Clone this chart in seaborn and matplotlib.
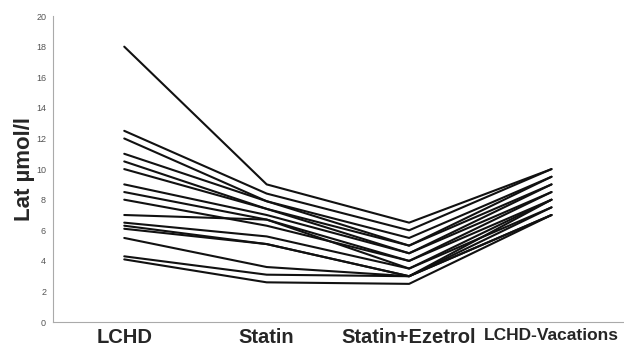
import pandas as pd
import seaborn as sns
import numpy as np
import matplotlib.pyplot as plt

# categories on the x axis
phases = ["LCHD", "Statin", "Statin+Ezetrol", "LCHD-Vacations"]

# one value per patient for each phase
lchd = [18.0, 12.5, 12.0, 11.0, 10.5, 10.0, 9.0, 8.5, 8.0, 7.0, 6.5, 6.3, 6.1, 5.5, 4.3, 4.1]
statin = [9.0, 8.4, 7.9, 7.9, 7.4, 7.4, 7.0, 6.7, 6.3, 6.7, 5.6, 5.1, 5.1, 3.6, 3.1, 2.6]
statin_ezetrol = [6.5, 6.0, 5.5, 5.0, 5.0, 4.5, 4.5, 4.0, 4.0, 3.5, 3.5, 3.0, 3.0, 3.0, 3.0, 2.5]
vacations = [10.0, 10.0, 9.5, 9.5, 9.0, 9.0, 8.5, 8.5, 8.0, 8.0, 7.5, 8.0, 7.5, 7.0, 7.0, 7.0]

#build long-form table
rows = []
for pid, vals in enumerate(zip(lchd, statin, statin_ezetrol, vacations)):
    for i, v in enumerate(vals):
        rows.append({"patient": pid, "phase": i, "value": v})
df = pd.DataFrame(rows)

sns.set_style("white")
plt.rcParams['font.family'] = ['Liberation Sans', 'DejaVu Sans']

fig = plt.figure(figsize=(6.24, 3.49), dpi=100)
ax = fig.add_axes([0.085, 0.077, 0.913, 0.877])

sns.lineplot(data=df, x="phase", y="value", units="patient", estimator=None,
             color="#111111", linewidth=1.5, ax=ax, legend=False)

ax.set_xlim(-0.5, 3.5)
ax.set_ylim(0, 20)
ax.set_yticks(np.arange(0, 21, 2))
ax.tick_params(axis='y', labelsize=6.5, colors='#555555', length=3, width=0.6, pad=2)

# category labels centered, ticks at the boundaries
ax.set_xticks(range(len(phases)))
ax.set_xticklabels(phases, fontsize=14.5, fontweight='bold')
ax.get_xticklabels()[-1].set_fontsize(12.5)
ax.tick_params(axis='x', length=0, pad=4)
ax.set_xticks([0.5, 1.5, 2.5], minor=True)
ax.tick_params(axis='x', which='minor', length=3, width=0.6, color='#999999', direction='inout')

ax.set_xlabel("")
ax.set_ylabel("Lat µmol/l", fontsize=16, fontweight='bold', labelpad=1)

for s in ["top", "right"]:
    ax.spines[s].set_visible(False)
for s in ["left", "bottom"]:
    ax.spines[s].set_color('#aaaaaa')
    ax.spines[s].set_linewidth(0.8)

fig.savefig("out.png", dpi=100)
